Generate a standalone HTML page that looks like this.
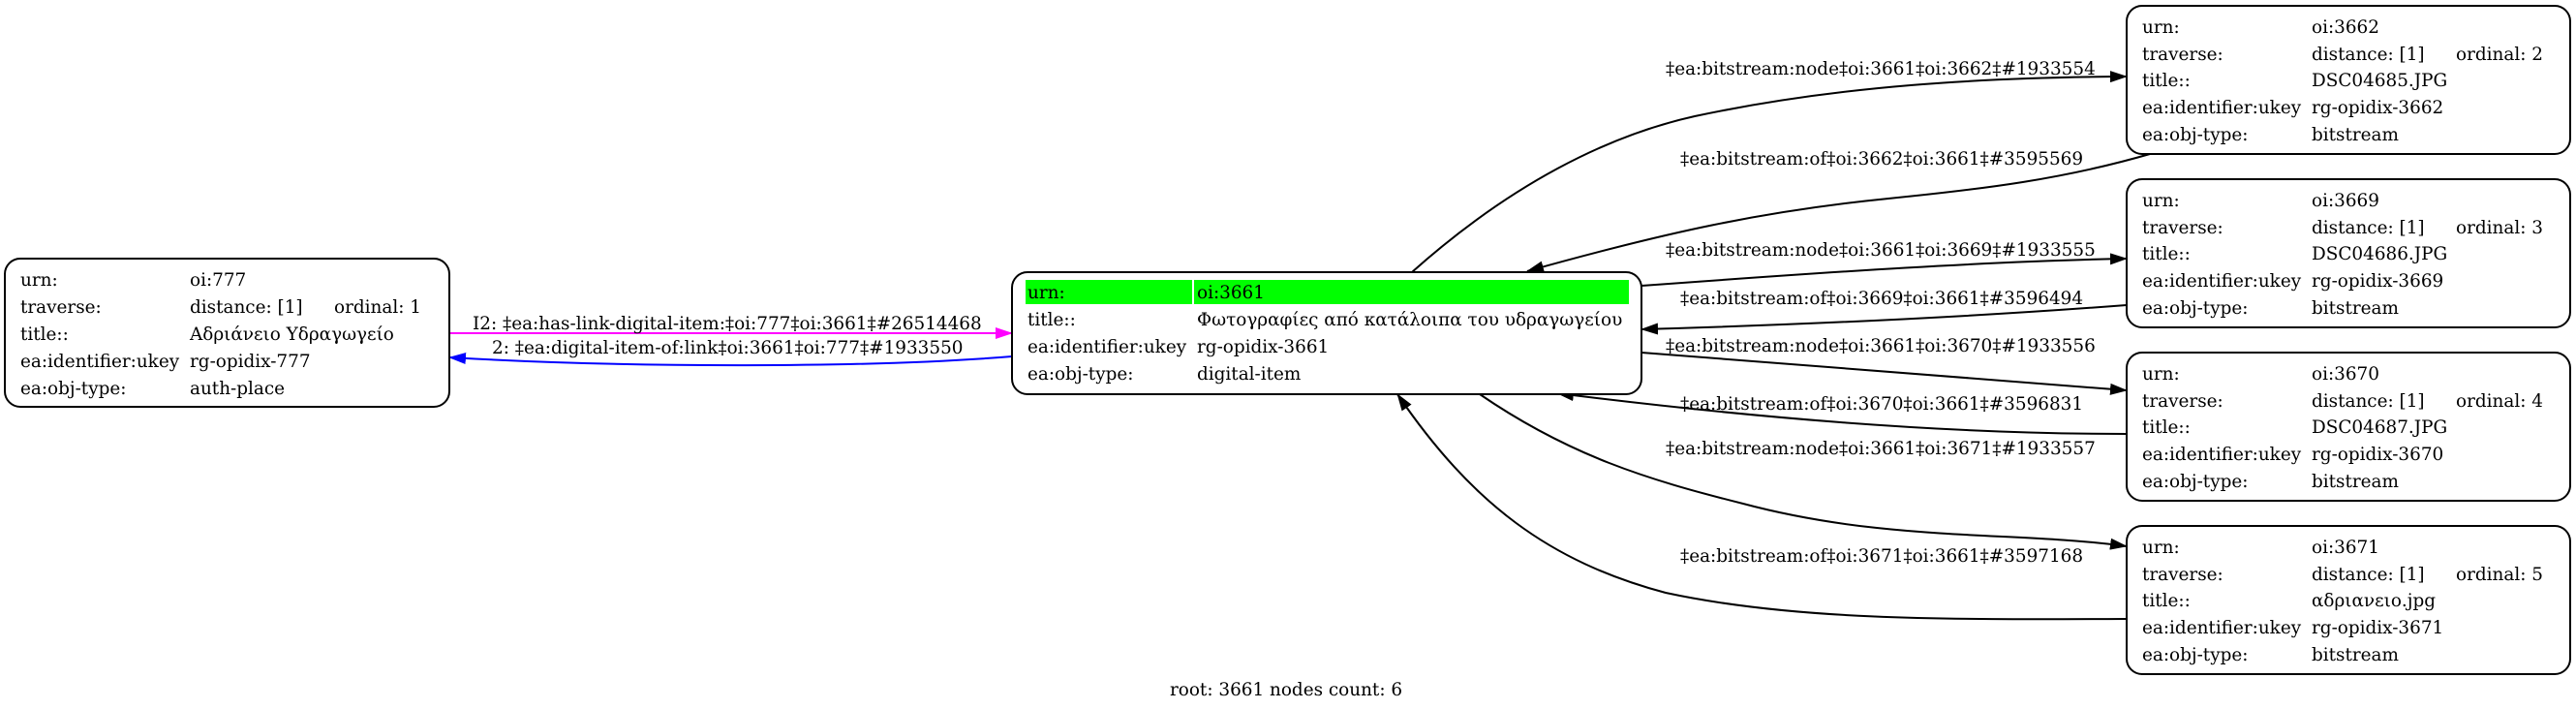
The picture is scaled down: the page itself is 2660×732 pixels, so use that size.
<!DOCTYPE html>
<html><head><meta charset="utf-8"><style>
html,body{margin:0;padding:0;background:#fff;}
svg{display:block;}
text{font-family:"DejaVu Serif","Liberation Serif",serif;font-size:18.4px;fill:#000;}
</style></head><body>
<svg width="2660" height="732" viewBox="0 0 2660 732" xmlns="http://www.w3.org/2000/svg">
<defs>
<marker id="ab" markerWidth="18" markerHeight="12" refX="17" refY="6" orient="auto" markerUnits="userSpaceOnUse"><path d="M0,0 L18,6 L0,12 z" fill="#000"/></marker>
<marker id="am" markerWidth="18" markerHeight="12" refX="17" refY="6" orient="auto" markerUnits="userSpaceOnUse"><path d="M0,0 L18,6 L0,12 z" fill="#ff00ff"/></marker>
<marker id="au" markerWidth="18" markerHeight="12" refX="17" refY="6" orient="auto" markerUnits="userSpaceOnUse"><path d="M0,0 L18,6 L0,12 z" fill="#0000ff"/></marker>
</defs>
<g fill="none" stroke-width="2">
<path d="M464,344 L1045,344" stroke="#ff00ff" marker-end="url(#am)"/>
<path d="M1045,368 C900,380 650,380 464,369" stroke="#0000ff" marker-end="url(#au)"/>
<g stroke="#000" marker-end="url(#ab)">
<path d="M1458,281 C1560,190 1660,140 1750,120 C1900,88 2050,80 2196,79"/>
<path d="M2220,159 C2130,185 2050,195 1950,205 C1820,218 1720,240 1577,280"/>
<path d="M1695,295 C1900,280 2050,270 2196,267"/>
<path d="M2196,315 C2000,330 1800,337 1695,340"/>
<path d="M1695,364 C1900,380 2080,395 2196,403"/>
<path d="M2196,448 C2000,448 1800,430 1608,406"/>
<path d="M1528,407 C1620,470 1700,495 1800,520 C1950,560 2080,548 2196,564"/>
<path d="M2196,639 C2000,640 1850,640 1720,612 C1600,580 1520,520 1443,407"/>
</g>
</g>
<g fill="#fff" stroke="#000" stroke-width="2">
<rect x="5" y="267" width="459" height="153" rx="16"/>
<rect x="1045" y="281" width="650" height="126" rx="16"/>
<rect x="2196" y="6" width="458" height="153" rx="16"/>
<rect x="2196" y="185" width="458" height="153" rx="16"/>
<rect x="2196" y="364" width="458" height="153" rx="16"/>
<rect x="2196" y="543" width="458" height="153" rx="16"/>
</g>
<rect x="1059" y="289" width="172" height="25" fill="#00ff00"/>
<rect x="1233" y="289" width="449" height="25" fill="#00ff00"/>
<text x="21" y="295">urn:</text><text x="196" y="295">oi:777</text>
<text x="21" y="323">traverse:</text><text x="196" y="323">distance: [1]</text><text x="345" y="323">ordinal: 1</text>
<text x="21" y="351">title::</text><text x="196" y="351">Αδριάνειο Υδραγωγείο</text>
<text x="21" y="379">ea:identifier:ukey</text><text x="196" y="379">rg-opidix-777</text>
<text x="21" y="407">ea:obj-type:</text><text x="196" y="407">auth-place</text>
<text x="1061" y="308">urn:</text><text x="1236" y="308">oi:3661</text>
<text x="1061" y="336">title::</text><text x="1236" y="336">Φωτογραφίες από κατάλοιπα του υδραγωγείου</text>
<text x="1061" y="364">ea:identifier:ukey</text><text x="1236" y="364">rg-opidix-3661</text>
<text x="1061" y="392">ea:obj-type:</text><text x="1236" y="392">digital-item</text>
<g>
<text x="2212" y="34">urn:</text><text x="2387" y="34">oi:3662</text>
<text x="2212" y="62">traverse:</text><text x="2387" y="62">distance: [1]</text><text x="2536" y="62">ordinal: 2</text>
<text x="2212" y="89">title::</text><text x="2387" y="89">DSC04685.JPG</text>
<text x="2212" y="117">ea:identifier:ukey</text><text x="2387" y="117">rg-opidix-3662</text>
<text x="2212" y="145">ea:obj-type:</text><text x="2387" y="145">bitstream</text>
</g>
<g transform="translate(0,179)">
<text x="2212" y="34">urn:</text><text x="2387" y="34">oi:3669</text>
<text x="2212" y="62">traverse:</text><text x="2387" y="62">distance: [1]</text><text x="2536" y="62">ordinal: 3</text>
<text x="2212" y="89">title::</text><text x="2387" y="89">DSC04686.JPG</text>
<text x="2212" y="117">ea:identifier:ukey</text><text x="2387" y="117">rg-opidix-3669</text>
<text x="2212" y="145">ea:obj-type:</text><text x="2387" y="145">bitstream</text>
</g>
<g transform="translate(0,358)">
<text x="2212" y="34">urn:</text><text x="2387" y="34">oi:3670</text>
<text x="2212" y="62">traverse:</text><text x="2387" y="62">distance: [1]</text><text x="2536" y="62">ordinal: 4</text>
<text x="2212" y="89">title::</text><text x="2387" y="89">DSC04687.JPG</text>
<text x="2212" y="117">ea:identifier:ukey</text><text x="2387" y="117">rg-opidix-3670</text>
<text x="2212" y="145">ea:obj-type:</text><text x="2387" y="145">bitstream</text>
</g>
<g transform="translate(0,537)">
<text x="2212" y="34">urn:</text><text x="2387" y="34">oi:3671</text>
<text x="2212" y="62">traverse:</text><text x="2387" y="62">distance: [1]</text><text x="2536" y="62">ordinal: 5</text>
<text x="2212" y="89">title::</text><text x="2387" y="89">αδριανειο.jpg</text>
<text x="2212" y="117">ea:identifier:ukey</text><text x="2387" y="117">rg-opidix-3671</text>
<text x="2212" y="145">ea:obj-type:</text><text x="2387" y="145">bitstream</text>
</g>
<text x="488" y="340">I2: ‡ea:has-link-digital-item:‡oi:777‡oi:3661‡#26514468</text>
<text x="508" y="365">2: ‡ea:digital-item-of:link‡oi:3661‡oi:777‡#1933550</text>
<text x="1720" y="77">‡ea:bitstream:node‡oi:3661‡oi:3662‡#1933554</text>
<text x="1735" y="170">‡ea:bitstream:of‡oi:3662‡oi:3661‡#3595569</text>
<text x="1720" y="264">‡ea:bitstream:node‡oi:3661‡oi:3669‡#1933555</text>
<text x="1735" y="314">‡ea:bitstream:of‡oi:3669‡oi:3661‡#3596494</text>
<text x="1720" y="363">‡ea:bitstream:node‡oi:3661‡oi:3670‡#1933556</text>
<text x="1735" y="423">‡ea:bitstream:of‡oi:3670‡oi:3661‡#3596831</text>
<text x="1720" y="469">‡ea:bitstream:node‡oi:3661‡oi:3671‡#1933557</text>
<text x="1735" y="580">‡ea:bitstream:of‡oi:3671‡oi:3661‡#3597168</text>
<text x="1208" y="718">root: 3661 nodes count: 6</text>
</svg>
</body></html>
